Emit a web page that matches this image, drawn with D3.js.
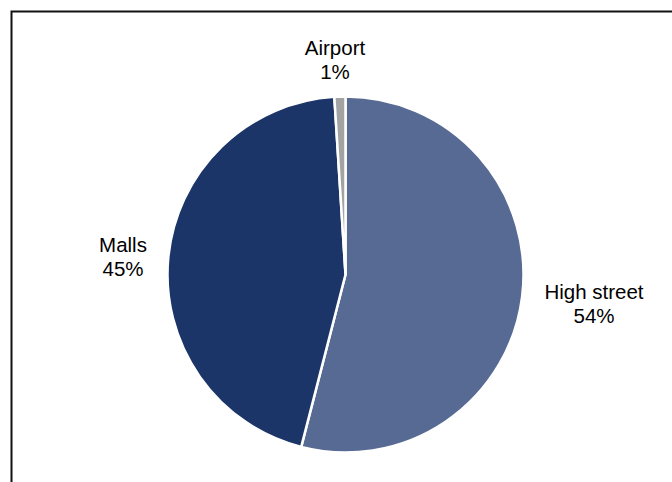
<!DOCTYPE html>
<html>
<head>
<meta charset="utf-8">
<script src="https://cdn.jsdelivr.net/npm/d3@7"></script>
<style>
  html, body { margin: 0; padding: 0; background: #fff; }
  svg { display: block; font-family: "Liberation Sans", Arial, sans-serif; }
</style>
</head>
<body>
<svg id="chart" width="672" height="482"></svg>
<script>
// Retail channel split
const categories = ["High street", "Malls", "Airport"];
const shares = [54, 45, 1];
const colors = ["#566a94", "#1b3568", "#a3a3a3"];

const W = 672, H = 482;
const svg = d3.select("#chart");

// frame lines (top and left)
svg.append("path")
  .attr("d", `M11.5,${H} V11.5 H${W}`)
  .attr("fill", "none")
  .attr("stroke", "#111")
  .attr("stroke-width", 2);

const cx = 345.5, cy = 274.5, R = 178;

const pie = d3.pie().sort(null).value(d => d.v);
const arcs = pie(categories.map((c, i) => ({ c, v: shares[i], i })));
const arc = d3.arc().innerRadius(0).outerRadius(R);

const g = svg.append("g").attr("transform", `translate(${cx},${cy})`);
g.selectAll("path.slice")
  .data(arcs)
  .join("path")
  .attr("class", "slice")
  .attr("d", arc)
  .attr("fill", d => colors[d.data.i])
  .attr("stroke", "#fff")
  .attr("stroke-width", 2.5)
  .attr("stroke-linejoin", "miter");

// label anchor positions, placed outside each slice
const labelPos = {
  "High street": [594, 299],
  "Malls": [123, 252],
  "Airport": [335, 55]
};

arcs.forEach(d => {
  const [x, y] = labelPos[d.data.c];
  const t = svg.append("text")
    .attr("x", x).attr("y", y)
    .attr("text-anchor", "middle")
    .attr("font-size", 20.5)
    .attr("fill", "#000");
  t.append("tspan").attr("x", x).text(d.data.c);
  t.append("tspan").attr("x", x).attr("dy", 24).text(d.data.v + "%");
});
</script>
</body>
</html>
